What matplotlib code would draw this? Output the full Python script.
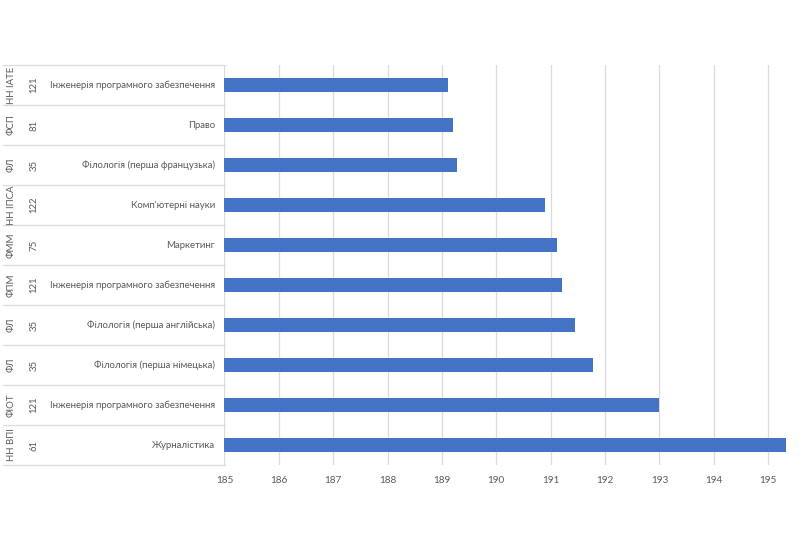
import matplotlib.pyplot as plt
import matplotlib.transforms as mtransforms
import numpy as np

plt.rcParams['font.family'] = ['Lato', 'DejaVu Sans']

faculties = ['НН ІАТЕ', 'ФСП', 'ФЛ', 'НН ІПСА', 'ФММ', 'ФПМ', 'ФЛ', 'ФЛ', 'ФІОТ', 'НН ВПІ']
codes = ['121', '81', '35', '122', '75', '121', '35', '35', '121', '61']
specialties = ['Інженерія програмного забезпечення', 'Право', 'Філологія (перша французька)',
               "Комп'ютерні науки", 'Маркетинг', 'Інженерія програмного забезпечення',
               'Філологія (перша англійська)', 'Філологія (перша німецька)',
               'Інженерія програмного забезпечення', 'Журналістика']
scores = [189.11, 189.2, 189.28, 190.89, 191.11, 191.2, 191.45, 191.78, 193.0, 195.33]

text_color = '#595959'
line_color = '#dcdae0'

fig = plt.figure(figsize=(8, 5.5), dpi=100)
ax = fig.add_axes([0.2806, 0.1545, 0.7019, 0.7273])

y = np.arange(len(scores))
ax.barh(y, np.array(scores) - 185, left=185, height=0.34, color='#4472C4')

ax.set_xlim(185, 195.33)
ax.set_ylim(len(scores) - 0.5, -0.5)
ax.set_xticks(range(185, 196))
ax.set_yticks([])
ax.grid(axis='x', color=line_color, linewidth=0.9)
ax.set_axisbelow(True)
for s in ax.spines.values():
    s.set_visible(False)
ax.tick_params(axis='x', length=0, colors=text_color, labelsize=7.2, pad=8)

# multi-level category labels on the left
tr = mtransforms.blended_transform_factory(fig.transFigure, ax.transData)
for i in range(len(scores)):
    ax.text(11 / 800, i, faculties[i], transform=tr, rotation=90, ha='center', va='center',
            fontsize=6.9, color=text_color)
    ax.text(34 / 800, i, codes[i], transform=tr, rotation=90, ha='center', va='center',
            fontsize=6.9, color=text_color)
    ax.text(215 / 800, i, specialties[i], transform=tr, ha='right', va='center',
            fontsize=6.9, color=text_color)

for b in np.arange(-0.5, len(scores), 1.0):
    ax.plot([3 / 800, 225 / 800], [b, b], transform=tr, color=line_color,
            linewidth=0.9, clip_on=False)

plt.savefig('out.png', dpi=100)
